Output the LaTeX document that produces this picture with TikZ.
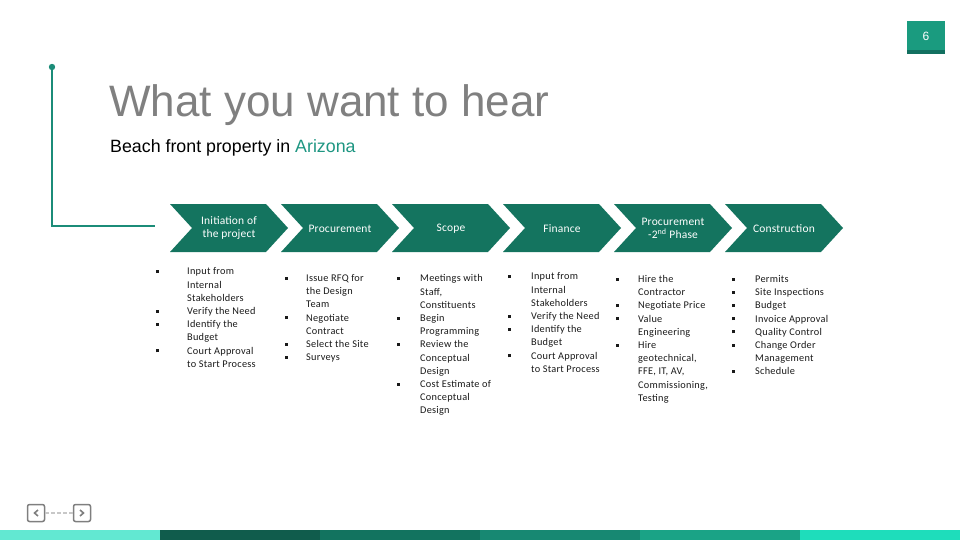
\documentclass[tikz,border=0pt]{standalone}
\usepackage{fontspec}
\setmainfont{Liberation Sans}
\newfontfamily\calfont{Carlito}
\newfontfamily\calbody[LetterSpace=2.5]{Carlito}
\newfontfamily\calhead[LetterSpace=1.5]{Carlito}
\usepackage{array}
\definecolor{chevc}{HTML}{14745F}
\definecolor{linec}{HTML}{1B8C78}
\definecolor{arizc}{HTML}{1E9682}
\definecolor{titlec}{HTML}{808080}
\definecolor{pgc}{HTML}{1A9B7F}
\definecolor{pgdark}{HTML}{127060}
\definecolor{navc}{HTML}{7F7F7F}
\definecolor{dashc}{HTML}{C8C8C8}
\definecolor{txtc}{HTML}{1A1A1A}
\definecolor{barA}{HTML}{62E8D2}
\definecolor{barB}{HTML}{105C4C}
\definecolor{barC}{HTML}{12735F}
\definecolor{barD}{HTML}{178872}
\definecolor{barE}{HTML}{1AA386}
\definecolor{barF}{HTML}{1EDDBB}
\newcommand\bul{\rule[1.8pt]{3pt}{3pt}}
\begin{document}
\begin{tikzpicture}[x=1pt,y=-1pt,
  chevtext/.style={text=white,font=\calhead\fontsize{11.5}{13}\selectfont,align=center,inner sep=0pt},
  colnode/.style={anchor=north west,inner sep=0pt,text=txtc,font=\calbody\fontsize{10.3}{13.2}\selectfont},
  navbox/.style={draw=navc,line width=1.5pt,rounded corners=2pt,minimum width=17pt,minimum height=17pt,inner sep=0pt}]
\useasboundingbox (0,0) rectangle (960,540);
% page number
\fill[pgc] (907,21) rectangle (945,54);
\fill[pgdark] (907,50) rectangle (945,54);
\node[text=white,font=\fontsize{12}{14}\selectfont,inner sep=0pt] (pg) at (926,36) {6};
% bracket line
\fill[linec] (52,67) circle (3.2);
\coordinate (lt) at (52,67);
\coordinate (lb) at (52,226);
\coordinate (lr) at (155,226);
\draw[linec,line width=2pt] (lt) -- (lb) -- (lr);
% title
\node[anchor=base west,inner sep=0pt,text=titlec,font=\fontsize{44}{50}\selectfont] (title) at (109,117) {What you want to hear};
\node[anchor=base west,inner sep=0pt,text=black,font=\fontsize{17.8}{20}\selectfont] (sub) at (110,153) {Beach front property in \textcolor{arizc}{Arizona}};
% chevrons
\foreach \i/\x/\t in {1/170/{Initiation of\\the project},2/281/{Procurement},3/392/{Scope},4/503/{Finance},5/614/{Procurement\\-2\textsuperscript{nd} Phase},6/725/{Construction}}{
  \fill[chevc] (\x,204) -- ++(96,0) -- ++(22,24) -- ++(-22,24) -- ++(-96,0) -- ++(22,-24) -- cycle;
  \node[chevtext] (ch\i) at ({\x+59},228.5) {\t};
}
% columns
\node[colnode] (c1) at (156,265.5) {\begin{tabular}{@{}p{31pt}@{}l@{}}
\bul & Input from\\ & Internal\\ & Stakeholders\\ \bul & Verify the Need\\ \bul & Identify the\\ & Budget\\ \bul & Court Approval\\ & to Start Process
\end{tabular}};
\node[colnode] (c2) at (285,272) {\begin{tabular}{@{}p{21pt}@{}l@{}}
\bul & Issue RFQ for\\ & the Design\\ & Team\\ \bul & Negotiate\\ & Contract\\ \bul & Select the Site\\ \bul & Surveys
\end{tabular}};
\node[colnode] (c3) at (397,272.5) {\begin{tabular}{@{}p{23pt}@{}l@{}}
\bul & Meetings with\\ & Staff,\\ & Constituents\\ \bul & Begin\\ & Programming\\ \bul & Review the\\ & Conceptual\\ & Design\\ \bul & Cost Estimate of\\ & Conceptual\\ & Design
\end{tabular}};
\node[colnode] (c4) at (508,270.5) {\begin{tabular}{@{}p{23pt}@{}l@{}}
\bul & Input from\\ & Internal\\ & Stakeholders\\ \bul & Verify the Need\\ \bul & Identify the\\ & Budget\\ \bul & Court Approval\\ & to Start Process
\end{tabular}};
\node[colnode] (c5) at (616,273) {\begin{tabular}{@{}p{22pt}@{}l@{}}
\bul & Hire the\\ & Contractor\\ \bul & Negotiate Price\\ \bul & Value\\ & Engineering\\ \bul & Hire\\ & geotechnical,\\ & FFE, IT, AV,\\ & Commissioning,\\ & Testing
\end{tabular}};
\node[colnode] (c6) at (732,273) {\begin{tabular}{@{}p{23pt}@{}l@{}}
\bul & Permits\\ \bul & Site Inspections\\ \bul & Budget\\ \bul & Invoice Approval\\ \bul & Quality Control\\ \bul & Change Order\\ & Management\\ \bul & Schedule
\end{tabular}};
% nav icons
\node[navbox] (navl) at (36,513) {};
\node[navbox] (navr) at (82,513) {};
\draw[navc,line width=1.6pt] ([xshift=2pt,yshift=3pt]navl.center) -- ([xshift=-1.5pt]navl.center) -- ([xshift=2pt,yshift=-3pt]navl.center);
\draw[navc,line width=1.6pt] ([xshift=-2pt,yshift=3pt]navr.center) -- ([xshift=1.5pt]navr.center) -- ([xshift=-2pt,yshift=-3pt]navr.center);
\draw[dashc,line width=1.5pt,dash pattern=on 4pt off 2pt] (navl.east) -- (navr.west);
% bottom bar
\fill[barA] (0,530) rectangle (160,540);
\fill[barB] (160,530) rectangle (320,540);
\fill[barC] (320,530) rectangle (480,540);
\fill[barD] (480,530) rectangle (640,540);
\fill[barE] (640,530) rectangle (800,540);
\fill[barF] (800,530) rectangle (960,540);
\end{tikzpicture}
\end{document}
